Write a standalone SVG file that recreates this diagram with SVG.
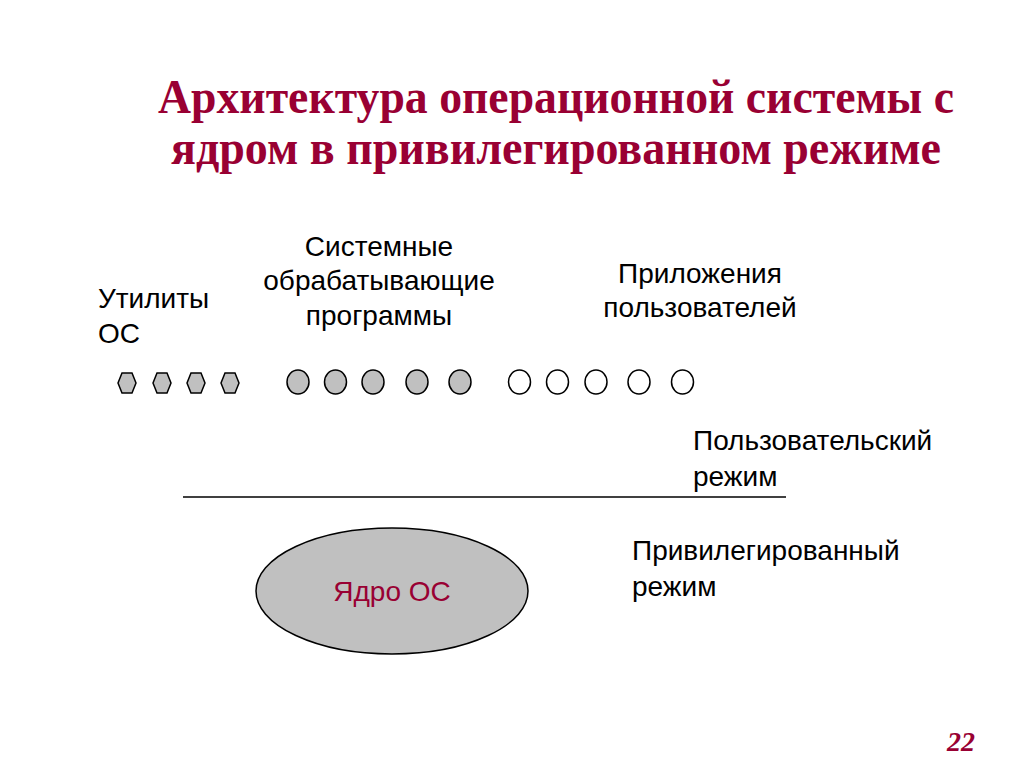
<svg xmlns="http://www.w3.org/2000/svg" width="1024" height="767" viewBox="0 0 1024 767">
<style>
.title{font-family:"Liberation Serif",serif;font-weight:bold;font-size:48px;fill:#990033}
.lbl{font-family:"Liberation Sans",Arial,sans-serif;font-size:28px;fill:#000}
.hex{fill:#c0c0c0;stroke:#000;stroke-width:1.5}
.gc{fill:#c0c0c0;stroke:#000;stroke-width:1.5}
.wc{fill:#fff;stroke:#000;stroke-width:1.5}
</style>
<rect width="1024" height="767" fill="#fff"/>
<g id="title">
<text class="title" x="556" y="113" text-anchor="middle" textLength="796" lengthAdjust="spacingAndGlyphs">Архитектура операционной системы с</text>
<text class="title" x="556" y="164" text-anchor="middle" textLength="770" lengthAdjust="spacingAndGlyphs">ядром в привилегированном режиме</text>
</g>
<g id="utilities">
<text class="lbl" x="98" y="308">Утилиты</text>
<text class="lbl" x="98" y="343">ОС</text>
<polygon class="hex" points="118,383 122,373 132,373 136,383 132,393 122,393"/>
<polygon class="hex" points="153,383 157,373 167,373 171,383 167,393 157,393"/>
<polygon class="hex" points="187,383 191,373 201,373 205,383 201,393 191,393"/>
<polygon class="hex" points="221,383 225,373 235,373 239,383 235,393 225,393"/>
</g>
<g id="system-programs">
<text class="lbl" x="379" y="256" text-anchor="middle">Системные</text>
<text class="lbl" x="379" y="290" text-anchor="middle">обрабатывающие</text>
<text class="lbl" x="379" y="325" text-anchor="middle">программы</text>
<ellipse class="gc" cx="298" cy="382" rx="11" ry="12"/>
<ellipse class="gc" cx="335.5" cy="382" rx="11" ry="12"/>
<ellipse class="gc" cx="373" cy="382" rx="11" ry="12"/>
<ellipse class="gc" cx="417" cy="382" rx="11" ry="12"/>
<ellipse class="gc" cx="460" cy="382" rx="11" ry="12"/>
</g>
<g id="user-apps">
<text class="lbl" x="700" y="283" text-anchor="middle">Приложения</text>
<text class="lbl" x="700" y="317" text-anchor="middle">пользователей</text>
<ellipse class="wc" cx="519.5" cy="382" rx="11" ry="12"/>
<ellipse class="wc" cx="557.5" cy="382" rx="11" ry="12"/>
<ellipse class="wc" cx="596" cy="382" rx="11" ry="12"/>
<ellipse class="wc" cx="639" cy="382" rx="11" ry="12"/>
<ellipse class="wc" cx="682.5" cy="382" rx="11" ry="12"/>
</g>
<g id="connectors">
<line x1="183" y1="497" x2="786" y2="497" stroke="#000" stroke-width="1.5"/>
</g>
<g id="user-mode">
<text class="lbl" x="693" y="450">Пользовательский</text>
<text class="lbl" x="693" y="486">режим</text>
</g>
<g id="priv-mode">
<text class="lbl" x="632" y="560">Привилегированный</text>
<text class="lbl" x="632" y="596">режим</text>
</g>
<g id="kernel">
<ellipse cx="392" cy="591" rx="136" ry="63" fill="#c0c0c0" stroke="#000" stroke-width="1.5"/>
<text x="392" y="601" text-anchor="middle" style="font-family:'Liberation Sans',Arial,sans-serif;font-size:28px;fill:#990033">Ядро ОС</text>
</g>
<text x="947" y="751" style="font-family:'Liberation Serif',serif;font-weight:bold;font-style:italic;font-size:28px;fill:#990033">22</text>
</svg>
